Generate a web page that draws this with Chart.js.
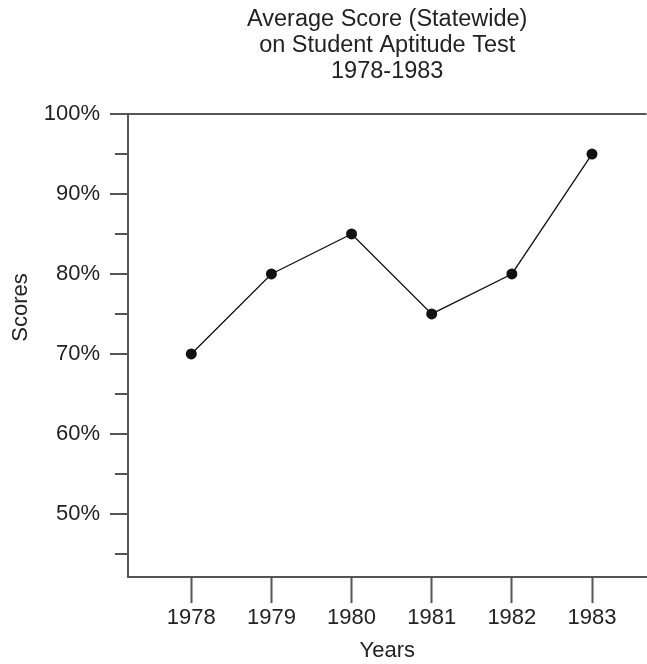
<!DOCTYPE html>
<html>
<head>
<meta charset="utf-8">
<title>Average Score (Statewide)</title>
<script src="https://cdn.jsdelivr.net/npm/chart.js@4.4.1/dist/chart.umd.min.js"></script>
<style>
  html, body { margin: 0; padding: 0; background: #fff; }
  #wrap { width: 647px; height: 664px; }
</style>
</head>
<body>
<div id="wrap"><canvas id="chart" width="647" height="664"></canvas></div>
<script>
const years = [1978, 1979, 1980, 1981, 1982, 1983];
const scores = [70, 80, 85, 75, 80, 95];
const majorTicks = [50, 60, 70, 80, 90, 100];
const minorTicks = [45, 55, 65, 75, 85, 95];

const axisColor = "#555";
const textColor = "#222";
const fontFamily = '"Liberation Sans", Arial, sans-serif';

Chart.defaults.font.family = fontFamily;
Chart.defaults.font.size = 22;
Chart.defaults.color = textColor;

// short unlabelled ticks halfway between the percentages,
// plus the "Scores" title which sits a little above the middle of the axis
const yAxisExtras = {
  id: "yAxisExtras",
  afterDraw(chart) {
    const y = chart.scales.y;
    const ctx = chart.ctx;
    ctx.save();
    ctx.strokeStyle = axisColor;
    ctx.lineWidth = 2;
    for (const v of minorTicks) {
      const py = Math.round(y.getPixelForValue(v));
      ctx.beginPath();
      ctx.moveTo(y.right - 13, py);
      ctx.lineTo(y.right, py);
      ctx.stroke();
    }
    ctx.translate(21, y.getPixelForValue(75.8));
    ctx.rotate(-Math.PI / 2);
    ctx.font = "22px " + fontFamily;
    ctx.fillStyle = textColor;
    ctx.textAlign = "center";
    ctx.textBaseline = "middle";
    ctx.fillText("Scores", 0, 0);
    ctx.restore();
  }
};

new Chart("chart", {
  type: "line",
  data: {
    datasets: [{
      data: years.map((yr, i) => ({ x: yr, y: scores[i] })),
      borderColor: "#111",
      borderWidth: 1.3,
      pointRadius: 5.5,
      pointBackgroundColor: "#111",
      pointBorderWidth: 0,
      tension: 0,
      clip: false
    }]
  },
  options: {
    responsive: false,
    animation: false,
    layout: { autoPadding: false, padding: { left: 33.7, right: 0.5, top: 0, bottom: 0 } },
    plugins: {
      legend: { display: false },
      tooltip: { enabled: false },
      title: {
        display: true,
        fullSize: false,
        text: ["Average Score (Statewide)", "on Student Aptitude Test", "1978-1983"],
        color: textColor,
        font: { size: 23.5, weight: "normal", lineHeight: 1.1 },
        padding: { top: 7, bottom: 29.5 }
      }
    },
    scales: {
      x: {
        type: "linear",
        min: 1977.21,
        max: 1983.68,
        afterBuildTicks: s => { s.ticks = years.map(v => ({ value: v })); },
        ticks: { padding: 2, callback: v => String(v) },
        grid: { drawOnChartArea: false, tickLength: 26, tickWidth: 2, tickColor: axisColor },
        border: { color: axisColor, width: 2 },
        title: { display: true, text: "Years", padding: { top: 4.2, bottom: 0 } }
      },
      y: {
        min: 42.1,
        max: 100,
        afterBuildTicks: s => { s.ticks = majorTicks.map(v => ({ value: v })); },
        ticks: { padding: 10, callback: v => v + "%" },
        grid: {
          tickLength: 18,
          tickWidth: 2,
          tickColor: axisColor,
          lineWidth: 2,
          // only the 100% line runs across the plot
          color: c => (c.tick && c.tick.value === 100 ? axisColor : "rgba(0,0,0,0)")
        },
        border: { color: axisColor, width: 2 }
      }
    }
  },
  plugins: [yAxisExtras]
});
</script>
</body>
</html>
